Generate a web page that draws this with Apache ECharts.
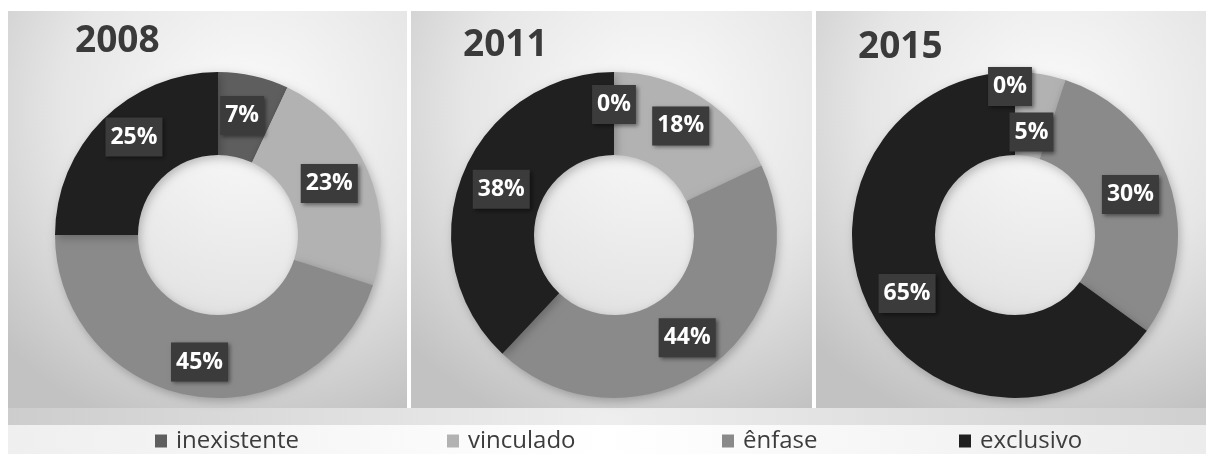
<!DOCTYPE html>
<html>
<head>
<meta charset="utf-8">
<script src="https://cdn.jsdelivr.net/npm/echarts@6/dist/echarts.min.js"></script>
<style>
html,body{margin:0;padding:0;background:#fff;}
#c{width:1206px;height:454px;}
</style>
</head>
<body>
<div id="c"></div>
<script>
const categories = ['inexistente', 'vinculado', 'ênfase', 'exclusivo'];
const years = ['2008', '2011', '2015'];
const values2008 = [7, 23, 45, 25];
const values2011 = [0, 18, 44, 38];
const values2015 = [0, 5, 30, 65];
const colors = ['#5e5e5e', '#b2b2b2', '#8a8a8a', '#202020'];

const chart = echarts.init(document.getElementById('c'), null, {renderer: 'canvas'});

const panels = [
  {x: 8, w: 399},
  {x: 411, w: 401},
  {x: 816, w: 390}
];
const centers = [[218, 235], [614, 235], [1015, 235]];
const titleLeft = [75, 463, 858];
const titleTop = [23, 27, 29];
const legendLeft = [150, 442, 717, 954];
const allValues = [values2008, values2011, values2015];
const labelOffsets = [
  [[-3,2],[-3,-2],[1,4],[4,-10]],
  [[0,-6],[0,-4],[0,2],[3,0]],
  [[-5,-24],[-3,20],[-3,-2],[3,2]]
];

const panelBg = {
  type: 'radial', x: 0.6, y: 0.25, r: 0.85,
  colorStops: [{offset: 0, color: '#fbfbfb'}, {offset: 0.55, color: '#e6e6e6'}, {offset: 1, color: '#c2c2c2'}]
};

const graphics = [];
panels.forEach(p => {
  graphics.push({type: 'rect', shape: {x: p.x, y: 11, width: p.w, height: 397}, style: {fill: panelBg}, z: -10});
});
graphics.push({type: 'rect', shape: {x: 8, y: 408, width: 1198, height: 17},
  style: {fill: {type: 'linear', x: 0, y: 0, x2: 1, y2: 0,
    colorStops: [{offset: 0, color: '#cdcdcd'}, {offset: 0.5, color: '#eeeeee'}, {offset: 1, color: '#cfcfcf'}]}}, z: -10});
graphics.push({type: 'rect', shape: {x: 8, y: 425, width: 1198, height: 29},
  style: {fill: {type: 'linear', x: 0, y: 0, x2: 1, y2: 0,
    colorStops: [{offset: 0, color: '#efefef'}, {offset: 0.5, color: '#ffffff'}, {offset: 1, color: '#ececec'}]}}, z: -10});

const series = allValues.map((vals, si) => ({
  type: 'pie',
  center: centers[si],
  radius: [80, 163],
  startAngle: 90,
  clockwise: true,
  avoidLabelOverlap: false,
  animation: false,
  silent: true,
  itemStyle: {shadowBlur: 10, shadowColor: 'rgba(0,0,0,0.25)', shadowOffsetX: 2, shadowOffsetY: 3},
  label: {
    show: true,
    position: 'inside',
    formatter: '{c}%',
    color: '#ffffff',
    fontFamily: 'Open Sans',
    fontWeight: 'bold',
    fontSize: 23,
    lineHeight: 22,
    backgroundColor: '#3b3b3b',
    padding: [8, 5, 9, 5],
    shadowColor: 'rgba(0,0,0,0.45)',
    shadowBlur: 4,
    shadowOffsetX: 2,
    shadowOffsetY: 2
  },
  labelLine: {show: false},
  data: vals.map((v, i) => ({
    name: categories[i],
    value: v,
    label: {offset: labelOffsets[si][i]}
  }))
}));

chart.setOption({
  color: colors,
  graphic: graphics,
  title: years.map((y, i) => ({
    text: y,
    left: titleLeft[i],
    top: titleTop[i],
    padding: 0,
    textStyle: {fontFamily: 'Open Sans', fontWeight: 'bold', fontSize: 37, color: '#3a3a3a'}
  })),
  legend: categories.map((c, i) => ({
    data: [c],
    left: legendLeft[i],
    top: 424,
    itemWidth: 12,
    itemHeight: 13,
    icon: 'rect',
    selectedMode: false,
    textStyle: {fontFamily: 'Open Sans', fontSize: 24, color: '#3c3c3c', padding: [0, 0, 0, 4]}
  })),
  series: series
});
</script>
</body>
</html>
